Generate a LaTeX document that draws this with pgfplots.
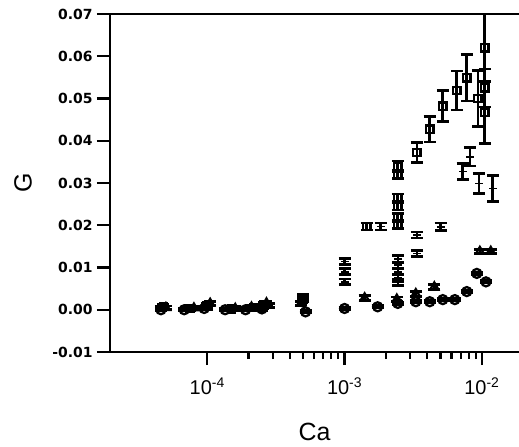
\documentclass[border=0pt]{standalone}
\usepackage{pgfplots}
\pgfplotsset{compat=1.18}
\usepackage{pgfplotstable}
\usepackage{fontspec}
\setmainfont{Liberation Sans}
\newfontfamily\dejab{DejaVu Sans}

\pgfplotstableread{
x y e
4.8e-5 0.0008 0.0004
7.5e-5 0.0003 0.0004
1.0e-4 0.0010 0.0005
1.5e-4 0.0002 0.0004
2.2e-4 0.0005 0.0004
2.6e-4 0.0012 0.0005
5.0e-4 0.0025 0.0006
1.45e-3 0.0197 0.0008
2.44e-3 0.0200 0.0008
2.44e-3 0.0220 0.0008
2.44e-3 0.0245 0.0009
2.44e-3 0.0265 0.0009
2.44e-3 0.0320 0.0010
2.44e-3 0.0340 0.0012
3.36e-3 0.0372 0.0024
4.17e-3 0.0427 0.0030
5.19e-3 0.0482 0.0037
6.56e-3 0.0519 0.0046
7.76e-3 0.0549 0.0055
9.35e-3 0.0500 0.0066
1.05e-2 0.0620 0.0080
1.05e-2 0.0525 0.0045
1.05e-2 0.0467 0.0073
}\squares

\pgfplotstableread{
x y e
4.6e-5 0.0003 0.0004
7.0e-5 0.0001 0.0004
1.0e-4 0.0005 0.0004
1.7e-4 0.0001 0.0004
2.4e-4 0.0004 0.0004
2.8e-4 0.0010 0.0005
5.0e-4 0.0030 0.0006
1.0e-3 0.0114 0.0007
1.0e-3 0.0090 0.0007
1.0e-3 0.0066 0.0007
1.83e-3 0.0197 0.0008
2.45e-3 0.0120 0.0008
2.45e-3 0.0105 0.0008
2.45e-3 0.0090 0.0008
2.45e-3 0.0075 0.0008
2.45e-3 0.0065 0.0008
3.36e-3 0.0177 0.0007
3.36e-3 0.0133 0.0007
5.0e-3 0.0196 0.0009
7.25e-3 0.0327 0.0019
8.17e-3 0.0362 0.0022
9.5e-3 0.0299 0.0024
1.2e-2 0.0287 0.0031
}\bars

\pgfplotstableread{
x y e
5.0e-5 0.0005 0.0004
8.0e-5 0.0004 0.0004
1.05e-4 0.0015 0.0004
1.6e-4 0.0003 0.0004
2.1e-4 0.0006 0.0004
2.7e-4 0.0016 0.0004
4.8e-4 0.0015 0.0004
1.4e-3 0.0028 0.0006
2.4e-3 0.0025 0.0005
3.3e-3 0.0038 0.0006
4.5e-3 0.0054 0.0006
9.66e-3 0.0138 0.0005
1.16e-2 0.0138 0.0005
}\triangles

\pgfplotstableread{
x y e
4.6e-5 0.0000 0.0003
6.8e-5 0.0000 0.0003
9.5e-5 0.0003 0.0003
1.35e-4 0.0000 0.0003
1.9e-4 0.0000 0.0003
2.5e-4 0.0002 0.0003
5.2e-4 -0.0005 0.0003
1.0e-3 0.0003 0.0003
1.74e-3 0.0007 0.0003
2.44e-3 0.0015 0.0003
3.3e-3 0.0019 0.0003
4.17e-3 0.0019 0.0003
5.19e-3 0.0024 0.0003
6.35e-3 0.0024 0.0003
7.76e-3 0.0043 0.0003
9.18e-3 0.0086 0.0003
1.07e-2 0.0066 0.0003
}\circles

\begin{document}
\begin{tikzpicture}
\begin{axis}[
  scale only axis,
  width=409bp, height=338bp,
  xmode=log,
  xmin=1.959e-5, xmax=0.01862,
  ymin=-0.01, ymax=0.07,
  axis x line*=bottom, axis y line*=left,
  axis line style={line width=2.4bp, -},
  tick align=outside,
  major tick length=13bp, minor tick length=7bp,
  every tick/.style={line width=2.2bp, black},
  xtick={1e-4,1e-3,1e-2},
  xticklabels={10\textsuperscript{-4},10\textsuperscript{-3},10\textsuperscript{-2}},
  xticklabel style={font=\fontsize{20}{20}\selectfont, yshift=-9bp},
  ytick={-0.01,0,0.01,0.02,0.03,0.04,0.05,0.06,0.07},
  yticklabels={-0.01,0.00,0.01,0.02,0.03,0.04,0.05,0.06,0.07},
  scaled y ticks=false,
  yticklabel style={font=\fontsize{14}{14}\selectfont\dejab\bfseries, xshift=-1bp},
  clip=false,
  error bars/y dir=both, error bars/y explicit,
  error bars/error mark options={rotate=90, mark size=6bp, line width=2.7bp, black},
  error bars/error bar style={line width=2.7bp, black},
]
\addplot[only marks, mark=square, mark size=3.7bp, mark options={line width=2.3bp, black}]
  table[x=x, y=y, y error=e] {\squares};
\addplot[only marks, mark=-, mark size=4bp, mark options={line width=1.8bp, black}]
  table[x=x, y=y, y error=e] {\bars};
\addplot[only marks, mark=triangle, mark size=4.5bp, mark options={line width=2.3bp, black}]
  table[x=x, y=y, y error=e] {\triangles};
\addplot[only marks, mark=o, mark size=4.5bp, mark options={line width=2.3bp, black}]
  table[x=x, y=y, y error=e] {\circles};
\end{axis}
\draw[line width=2.4bp] (0,338bp) -- (409bp,338bp);
\node[rotate=90, font=\fontsize{25}{25}\selectfont] at (-87bp,169bp) {G};
\node[font=\fontsize{25}{25}\selectfont] at (204.5bp,-80bp) {Ca};
\pgfresetboundingbox
\path[use as bounding box] (-110bp,-95bp) rectangle (409bp,352bp);
\end{tikzpicture}
\end{document}
